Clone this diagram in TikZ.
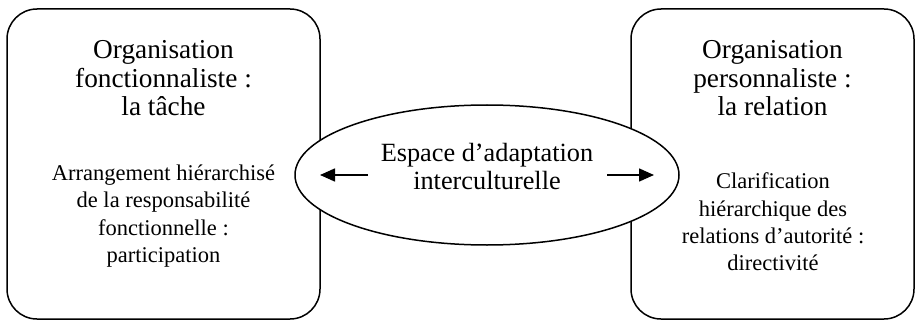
\documentclass[tikz,border=0pt]{standalone}
\usepackage{fontspec}
\setmainfont{Liberation Serif}
\usetikzlibrary{arrows.meta,shapes.geometric}
\tikzset{
  panel/.style={draw=black, line width=1.5pt, rounded corners=30pt},
  headtext/.style={align=center, inner sep=0pt, font=\fontsize{27.3}{28.5}\selectfont},
  bodytext/.style={align=center, inner sep=0pt, font=\fontsize{22.5}{27.3}\selectfont},
  bubble/.style={draw=black, fill=white, line width=1.5pt, ellipse, minimum width=384pt, minimum height=140pt, inner sep=0pt},
  bubbletext/.style={align=center, inner sep=0pt, font=\fontsize{26.3}{28}\selectfont},
  link/.style={line width=1.6pt, -{Triangle[length=15pt,width=13pt]}}
}
\begin{document}
\begin{tikzpicture}[x=1pt,y=-1pt]
\useasboundingbox (0,0) rectangle (919,321);
% boxes
\draw[panel] (7,9) rectangle (320,319);
\draw[panel] (631,9) rectangle (914,319);
% left box texts
\node[headtext] (lhead) at (163.5,78.5) {Organisation\\fonctionnaliste :\\la tâche};
\node[bodytext] (lbody) at (163.5,216) {Arrangement hiérarchisé\\de la responsabilité\\fonctionnelle :\\participation};
% right box texts
\node[headtext] (rhead) at (772.5,78.5) {Organisation\\personnaliste :\\la relation};
\node[bodytext] (rbody) at (773,222) {Clarification\\hiérarchique des\\relations d’autorité :\\directivité};
% ellipse
\node[bubble] (mid) at (487,175) {};
\node[bubbletext] (midtext) at (487,167) {Espace d’adaptation\\interculturelle};
% arrows
\coordinate (la) at (368,175);
\coordinate (lt) at (320,175);
\coordinate (ra) at (607,175);
\coordinate (rt) at (654,175);
\draw[link] (la) -- (lt);
\draw[link] (ra) -- (rt);
\end{tikzpicture}
\end{document}
